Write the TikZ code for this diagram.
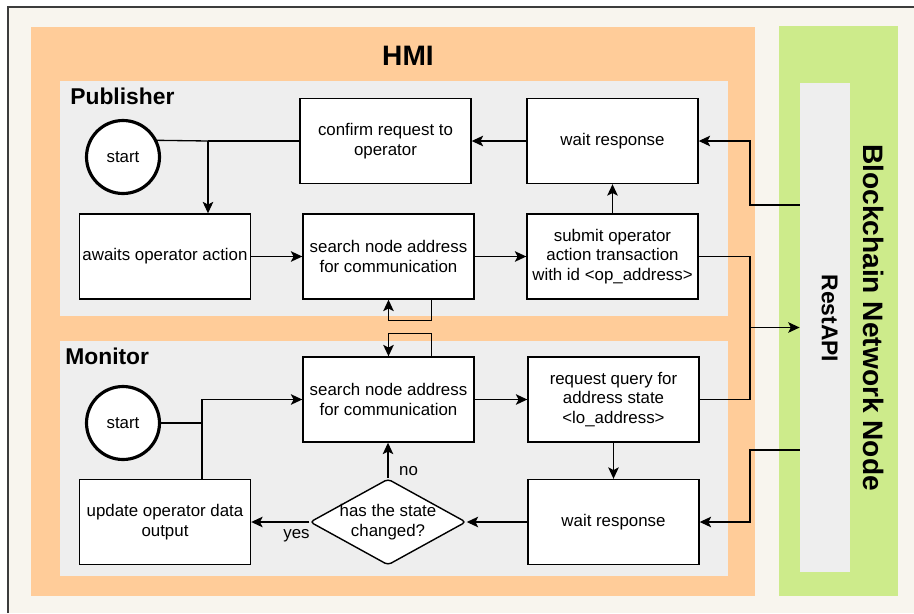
\documentclass[tikz,border=0pt]{standalone}
\usepackage{fontspec}
\setmainfont{Liberation Sans}
\usetikzlibrary{shapes.geometric,calc,arrows.meta}

\definecolor{paper}{HTML}{F8F5EE}
\definecolor{hmiorange}{HTML}{FFCC99}
\definecolor{lanegray}{HTML}{EEEEEE}
\definecolor{chaingreen}{HTML}{CDEB8B}
\definecolor{framegray}{HTML}{3C3C3C}

\tikzset{
    stepbox/.style={rectangle, draw, fill=white, line width=0.8pt, minimum width=3.42cm, minimum height=1.7cm, align=center, inner sep=1pt, font=\fontsize{9.6}{11.3}\selectfont},
    startnode/.style={circle, draw, fill=white, line width=1.8pt, minimum size=1.46cm, inner sep=0pt, font=\fontsize{9.6}{11.3}\selectfont},
    decision/.style={diamond, draw, fill=white, line width=0.8pt, aspect=1.81, minimum width=3.12cm, minimum height=1.72cm, inner sep=-0.5pt, rounded corners=2pt, align=center, font=\fontsize{9.6}{11.3}\selectfont},
    bigtitle/.style={font=\bfseries\fontsize{16}{19}\selectfont, inner sep=0pt},
    lanetitle/.style={font=\bfseries\fontsize{13}{15}\selectfont, inner sep=0pt, anchor=west},
    edgelabel/.style={font=\fontsize{9.6}{11.3}\selectfont, inner sep=1pt},
    flow/.style={line width=0.75pt, -{Stealth[length=6.5pt, width=6pt, inset=1.5pt]}},
    link/.style={line width=0.75pt},
}

\begin{document}
\begin{tikzpicture}[x=0.02cm, y=-0.02cm]
    \useasboundingbox (0,0) rectangle (914,613);
    \fill[white] (0,0) rectangle (914,613);
    \fill[paper] (8,7) rectangle (914,613);
    \draw[framegray, line width=0.6pt] (8,613) -- (8,7) -- (914,7);

    \fill[hmiorange] (31,27) rectangle (755,596);
    \fill[lanegray] (60,81) rectangle (728,316);
    \fill[lanegray] (60,341) rectangle (728,576);
    \fill[chaingreen] (779,26) rectangle (898,596);
    \node at (825,327.5) [fill=lanegray, minimum width=1cm, minimum height=9.78cm, inner sep=0pt] (rest) {};

    \node at (408,56) [bigtitle] (hmi) {HMI};
    \node at (70,96) [lanetitle] (publisher) {Publisher};
    \node at (65,356) [lanetitle] (monitor) {Monitor};
    \node at (874,317.5) [bigtitle, rotate=-90] (chain) {Blockchain Network Node};
    \node at (829.5,318.5) [bigtitle, font=\bfseries\fontsize{13}{15}\selectfont, rotate=-90] (restapi) {RestAPI};

    \node at (123,157) [startnode] (start1) {start};
    \node at (385.5,141) [stepbox] (confirm) {confirm request to\\operator};
    \node at (612.5,141) [stepbox] (wait1) {wait response};
    \node at (165,256.5) [stepbox] (awaits) {awaits operator action};
    \node at (388.5,256.5) [stepbox] (search1) {search node address\\for communication};
    \node at (612.5,256.5) [stepbox] (submit) {submit operator\\action transaction\\with id <op\_address>};

    \node at (123,423) [startnode] (start2) {start};
    \node at (388.5,399.5) [stepbox] (search2) {search node address\\for communication};
    \node at (613.5,399.5) [stepbox] (request) {request query for\\address state\\<lo\_address>};
    \node at (165,522) [stepbox] (update) {update operator data\\output};
    \node at (388,522) [decision] (decide) {has the state\\changed?};
    \node at (613.5,522) [stepbox] (wait2) {wait response};

    \coordinate (pj) at (208,141);
    \coordinate (mj) at (202,423);
    \coordinate (bus) at (750,327.5);
    \coordinate (rout1) at ([yshift=2.45cm]rest.west);
    \coordinate (rout2) at ([yshift=-2.45cm]rest.west);

    \draw[link] (start1.26) -- (pj);
    \draw[link] (confirm.west) -- (pj);
    \draw[flow] (pj) -- (pj |- awaits.north);
    \draw[flow] (awaits) -- (search1);
    \draw[flow] (search1) -- (submit);
    \draw[flow] (submit) -- (wait1);
    \draw[flow] (wait1) -- (confirm);
    \draw[flow] ($(search1.south)!0.5!(search1.south east)$) -- ++(0,21) -| (search1.south);
    \draw[link] (submit.east) -| (bus);
    \draw[flow] (bus) -- (rest.west);
    \draw[flow] (rout1) -- (rout1 -| bus) |- (wait1.east);

    \draw[link] (start2) -- (mj);
    \draw[flow] (update.north -| mj) |- (search2.west);
    \draw[flow] ($(search2.north)!0.5!(search2.north east)$) -- ++(0,-23) -| (search2.north);
    \draw[flow] (search2) -- (request);
    \draw[link] (request.east) -| (bus);
    \draw[flow] (request) -- (wait2);
    \draw[flow] (rout2) -- (rout2 -| bus) |- (wait2.east);
    \draw[flow] (wait2) -- (decide);
    \draw[flow] (decide) -- node[edgelabel, below, pos=0.22, yshift=-3pt] {yes} (update);
    \draw[flow] (decide.north) -- node[edgelabel, right, pos=0.2, xshift=5pt] {no} (decide.north |- search2.south);
\end{tikzpicture}
\end{document}
